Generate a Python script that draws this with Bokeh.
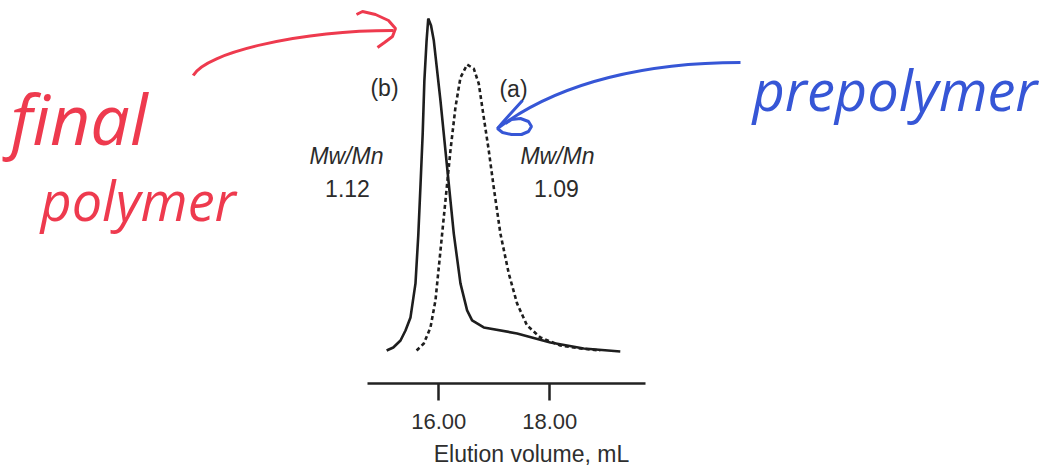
from bokeh.plotting import figure
from bokeh.models import Range1d, FixedTicker
from bokeh.core.properties import value
from bokeh.embed import file_html
from bokeh.resources import INLINE

# ---------------- data ----------------
# (b) final polymer, solid trace (elution volume in mL, normalised detector response)
final_x = [15.06, 15.18, 15.31, 15.40, 15.49, 15.58, 15.63, 15.67, 15.71, 15.74, 15.78, 15.81,
           15.86, 15.91, 16.03, 16.15, 16.27, 16.39, 16.51, 16.60, 16.81, 17.41, 18.01, 18.61, 19.27]
final_y = [0.006, 0.015, 0.036, 0.066, 0.105, 0.207, 0.350, 0.500, 0.656, 0.814, 0.934, 1.000,
           0.979, 0.934, 0.754, 0.554, 0.356, 0.207, 0.126, 0.096, 0.075, 0.057, 0.030, 0.012, 0.003]
# (a) prepolymer, dashed trace
pre_x = [15.60, 15.73, 15.85, 15.94, 16.03, 16.12, 16.21, 16.30, 16.39, 16.51, 16.63, 16.72,
         16.81, 16.90, 16.99, 17.11, 17.26, 17.41, 17.59, 17.83, 18.19, 18.55, 18.91]
pre_y = [0.006, 0.027, 0.075, 0.156, 0.305, 0.455, 0.605, 0.734, 0.823, 0.862, 0.850, 0.805,
         0.704, 0.605, 0.494, 0.356, 0.237, 0.147, 0.081, 0.045, 0.021, 0.012, 0.006]
tick_values = [16, 18]
tick_labels = ["16.00", "18.00"]
axis_title = "Elution volume, mL"
axis_extent = (14.715, 19.724)
peak_labels = ["(b)", "(a)"]
pdi_title = "Mw/Mn"
pdi_values = ["1.12", "1.09"]
note_final = ["final", "polymer"]
note_pre = "prepolymer"

# ---------------- layout helpers (picture pixel -> data units) ----------------
X0_PX, PX_PER_ML = 438.3, 55.5
Y0_PX, PX_PER_UNIT = 352.0, 334.0


def dx(px):
    return 16 + (px - X0_PX) / PX_PER_ML


def dy(py):
    return (Y0_PX - py) / PX_PER_UNIT


p = figure(frame_width=1062, frame_height=383,
           x_range=Range1d(dx(0), dx(1062)), y_range=Range1d(dy(383), dy(0)),
           output_backend="svg", toolbar_location=None, y_axis_location=None,
           min_border=0, outline_line_color=None, background_fill_color="white")
p.grid.visible = False

ax = p.xaxis[0]
ax.ticker = FixedTicker(ticks=tick_values)
ax.major_label_overrides = {t: l for t, l in zip(tick_values, tick_labels)}
ax.bounds = axis_extent
ax.axis_line_width = 2.5
ax.axis_line_color = "#222222"
ax.major_tick_line_width = 2.5
ax.major_tick_line_color = "#222222"
ax.major_tick_in = 0
ax.major_tick_out = 17
ax.minor_tick_out = 0
ax.minor_tick_in = 0
ax.major_label_standoff = 13
ax.major_label_text_font = "Liberation Sans"
ax.major_label_text_font_size = "22px"
ax.major_label_text_color = "#2e2e2e"
ax.axis_label = axis_title
ax.axis_label_standoff = 9
ax.axis_label_text_font = "Liberation Sans"
ax.axis_label_text_font_size = "23px"
ax.axis_label_text_font_style = "normal"
ax.axis_label_text_color = "#2e2e2e"

# traces
p.line(final_x, final_y, line_color="#1e1e1e", line_width=2.6)
p.line(pre_x, pre_y, line_color="#1e1e1e", line_width=2.6, line_dash="4 3")

# printed labels
txt = dict(text_font=value("Liberation Sans"), text_font_size="23px",
           text_align="center", text_baseline="middle", text_color="#2b2b2b")
p.text(x=[dx(384), dx(513)], y=[dy(87), dy(88)], text=peak_labels, **txt)
p.text(x=[dx(346), dx(557)], y=[dy(155), dy(155)], text=[pdi_title, pdi_title],
       text_font_style="italic", **txt)
p.text(x=[dx(347), dx(556)], y=[dy(188), dy(188)], text=pdi_values, **txt)

# handwritten notes (red: final polymer, blue: prepolymer)
RED = "#ee3a4e"
BLUE = "#3656d6"
p.text(x=[dx(10)], y=[dy(117)], text=[note_final[0]], text_font=value("Open Sans"),
       text_font_size="70px", text_font_style="italic", text_color=RED,
       text_align="left", text_baseline="alphabetic")
p.text(x=[dx(40)], y=[dy(199)], text=[note_final[1]], text_font=value("Open Sans"),
       text_font_size="54px", text_font_style="italic", text_color=RED,
       text_align="left", text_baseline="alphabetic")
p.text(x=[dx(752)], y=[dy(88)], text=[note_pre], text_font=value("Open Sans"),
       text_font_size="56px", text_font_style="italic", text_color=BLUE,
       text_align="left", text_baseline="alphabetic")

# red arrow
p.bezier(x0=[dx(192.7)], y0=[dy(75)], x1=[dx(393)], y1=[dy(30)],
         cx0=[dx(205)], cy0=[dy(52)], cx1=[dx(300)], cy1=[dy(30)],
         line_color=RED, line_width=3)
p.line([dx(v) for v in (356, 362, 375, 388, 395, 392, 384, 377)],
       [dy(v) for v in (14, 11, 14, 20, 28, 36, 42, 47)], line_color=RED, line_width=3)

# blue arrow
p.bezier(x0=[dx(740)], y0=[dy(62)], x1=[dx(497)], y1=[dy(128)],
         cx0=[dx(650)], cy0=[dy(62)], cx1=[dx(560)], cy1=[dy(80)],
         line_color=BLUE, line_width=3)
p.line([dx(v) for v in (522, 512, 503, 497, 502, 511, 521, 528, 531, 528, 520, 511, 505)],
       [dy(v) for v in (100, 111, 121, 128, 132, 134, 134, 131, 126, 121, 118, 119, 123)],
       line_color=BLUE, line_width=3)

open("out.html", "w").write(file_html(p, INLINE))
